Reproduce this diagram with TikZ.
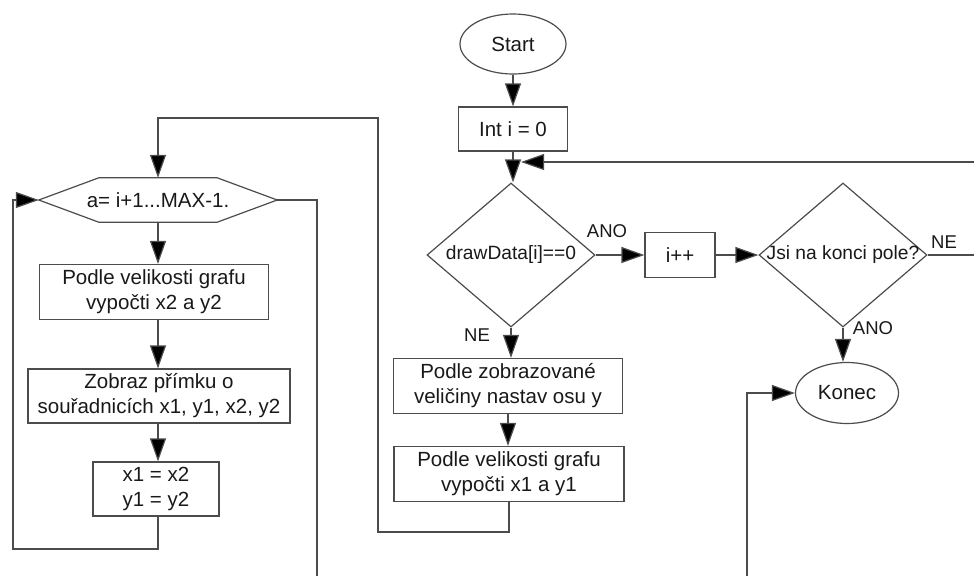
\documentclass[tikz,border=0pt]{standalone}
\usepackage{fontspec}
\setmainfont{Liberation Sans}
\usetikzlibrary{arrows.meta,shapes.geometric}

\begin{document}
\begin{tikzpicture}[x=1pt,y=-1pt,
  every node/.style={font=\fontsize{20.5}{25}\selectfont, align=center, inner sep=0pt, text=black!90},
  line/.style={draw=black!70, line width=1.2pt},
  arr/.style={line, -{Triangle[length=23pt,width=16pt,fill=black]}},
  box/.style={draw=black!70, line width=1.2pt, fill=white, rectangle},
  term/.style={draw=black!70, line width=1.2pt, fill=white, ellipse},
  dia/.style={draw=black!70, line width=1.2pt, fill=white, diamond, minimum width=168pt, minimum height=144pt},
  diatext/.style={font=\fontsize{19.2}{23}\selectfont},
  lbl/.style={font=\fontsize{18.5}{22}\selectfont}
]
\useasboundingbox (0,0) rectangle (974,576);

% main column
\node[term, minimum width=106pt, minimum height=60pt] (start) at (513,44) {Start};
\node[box, minimum width=109pt, minimum height=44pt] (init) at (513,129) {Int i = 0};
\node[dia] (d1) at (511,255) {};
\node[diatext] (d1t) at (d1) {drawData[i]==0};
\node[box, minimum width=70pt, minimum height=45pt] (inc) at (680,255) {i++};
\node[dia] (d2) at (843,255) {};
\node[diatext] (d2t) at (d2) {Jsi na konci pole?};
\node[term, minimum width=103pt, minimum height=61pt] (end) at (847,393) {Konec};
\node[box, minimum width=229pt, minimum height=55pt] (zob) at (508,386) {Podle zobrazované\\veličiny nastav osu y};
\node[box, minimum width=230pt, minimum height=55pt] (vel1) at (509,474) {Podle velikosti grafu\\vypočti x1 a y1};

% inner loop column
\node[minimum width=238pt, minimum height=44pt] (hx) at (158,200) {};
\draw[line, fill=white] (hx.west) -- ([xshift=60pt]hx.north west) -- ([xshift=-60pt]hx.north east)
  -- (hx.east) -- ([xshift=-60pt]hx.south east) -- ([xshift=60pt]hx.south west) -- cycle;
\node (hxt) at (hx) {a= i+1...MAX-1.};
\node[box, minimum width=229pt, minimum height=55pt] (b1) at (154,292) {Podle velikosti grafu\\vypočti x2 a y2};
\node[box, minimum width=262pt, minimum height=54pt] (b2) at (159,396) {Zobraz přímku o\\souřadnicích x1, y1, x2, y2};
\node[box, minimum width=126pt, minimum height=54pt] (b3) at (156,489) {x1 = x2\\y1 = y2};

% labels
\node[lbl] (lano1) at (607,231) {ANO};
\node[lbl] (lne1) at (944,242) {NE};
\node[lbl] (lano2) at (873,328) {ANO};
\node[lbl] (lne2) at (477,335) {NE};

% helper points for the loop lines
\coordinate (c1) at (378,532);
\coordinate (c2) at (378,118);
\coordinate (c3) at (13,549);
\coordinate (c4) at (317,576);
\coordinate (c5) at (747,576);
\coordinate (c6) at (974,162);
\coordinate (c7) at (521,162);
\coordinate (c8) at (974,255);

% connectors
\draw[arr] (start) -- (init);
\draw[arr] (init.south) -- (init.south |- d1.north);
\draw[arr] (c6) -- (c7);
\draw[arr] (d1.east) -- (inc.west);
\draw[arr] (inc.east) -- (d2.west);
\draw[line] (d2.east) -- (c8);
\draw[arr] (d2.south) -- (d2.south |- end.north);
\draw[arr] (c5) -- (c5 |- end.west) -- (end.west);
\draw[arr] (d1.south) -- (d1.south |- zob.north);
\draw[arr] (zob.south) -- (zob.south |- vel1.north);
\draw[arr] (vel1.south) -- (vel1.south |- c1) -- (c1) -- (c2) -- (c2 -| hx.north) -- (hx.north);
\draw[arr] (hx.south) -- (hx.south |- b1.north);
\draw[arr] (b1.south -| hx.south) -- (hx.south |- b2.north);
\draw[arr] (b2.south -| hx.south) -- (hx.south |- b3.north);
\draw[arr] (b3.south -| hx.south) -- (hx.south |- c3) -- (c3) -- (c3 |- hx.west) -- (hx.west);
\draw[line] (hx.east) -- (c4 |- hx.east) -- (c4);
\end{tikzpicture}
\end{document}
